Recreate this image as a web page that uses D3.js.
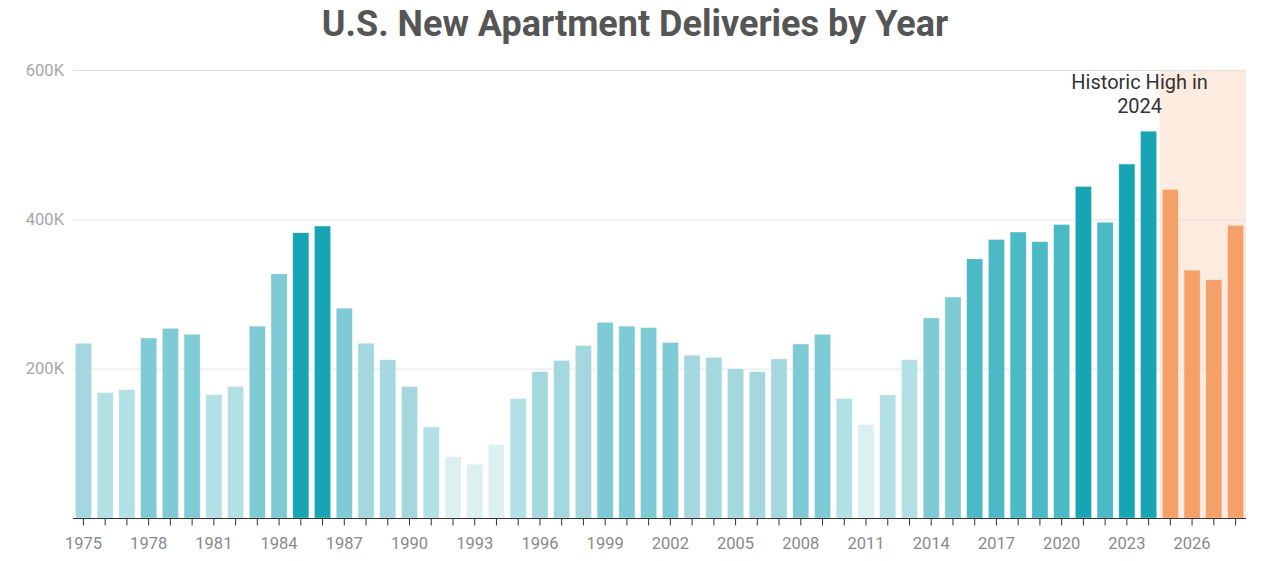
<!DOCTYPE html>
<meta charset="utf-8">
<title>U.S. New Apartment Deliveries by Year</title>
<style>

body {
  margin: 0;
  background: #fff;
  font-family: Roboto, "Noto Sans", sans-serif;
}

.grid line {
  stroke: #e3e3e3;
  stroke-width: 1px;
}

.y-axis text {
  fill: #a6a6a6;
  font-size: 16.5px;
}

.x-axis text {
  fill: #8a8a8a;
  font-size: 16.5px;
}

.x-axis line,
.x-axis path {
  stroke: #333;
}

</style>
<body>
<script src="https://cdn.jsdelivr.net/npm/d3@7"></script>
<script>

var years = d3.range(1975, 2029);

// thousands of units delivered
var deliveries = [
  234, 168, 172, 241, 254, 246, 165, 176, 257, 327,
  382, 391, 281, 234, 212, 176, 122, 82, 72, 98,
  160, 196, 211, 231, 262, 257, 255, 235, 218, 215,
  200, 196, 213, 233, 246, 160, 125, 165, 212, 268,
  296, 347, 373, 383, 370, 393, 444, 396, 474, 518,
  440, 332, 319, 392
];

// shade bucket for each year (0 lightest .. 5 darkest, 6 = forecast)
var shade = [
  2, 1, 1, 3, 3, 3, 1, 1, 3, 3,
  5, 5, 3, 2, 2, 2, 1, 0, 0, 0,
  1, 2, 2, 2, 3, 3, 3, 3, 2, 2,
  2, 2, 2, 3, 3, 1, 0, 1, 1, 3,
  3, 4, 4, 4, 4, 4, 5, 4, 5, 5,
  6, 6, 6, 6
];

var shadeColors = ["#dcf0f1", "#b2e0e4", "#a4d8de", "#7fcbd5", "#4bb9c6", "#17a4b3", "#f4a068"];

var yTicks = [200, 400, 600];
var yTickLabels = ["200K", "400K", "600K"];

var forecastStart = 2025;
var note = ["Historic High in", "2024"];
var noteYear = 2024;

var w = 1263,
    h = 561,
    m = {left: 73, right: 1246, top: 70, bottom: 518};

var svg = d3.select("body").append("svg")
    .attr("width", w)
    .attr("height", h);

var x = d3.scaleBand()
    .domain(years)
    .range([m.left, m.right])
    .paddingInner(0.26)
    .paddingOuter(0.11);

var y = d3.scaleLinear()
    .domain([0, 600])
    .range([m.bottom, m.top]);

var color = d3.scaleOrdinal()
    .domain(d3.range(shadeColors.length))
    .range(shadeColors);

svg.append("text")
    .attr("x", 635)
    .attr("y", 36)
    .attr("text-anchor", "middle")
    .style("font-size", "36px")
    .style("font-weight", "bold")
    .style("fill", "#555")
    .text("U.S. New Apartment Deliveries by Year");

// forecast band
var fx = x(forecastStart) - x.step() * x.paddingInner() / 2;
svg.append("rect")
    .attr("x", fx)
    .attr("y", y(600))
    .attr("width", m.right - fx)
    .attr("height", y(0) - y(600))
    .style("fill", "#fdebe0");

svg.append("g")
    .attr("class", "grid")
  .selectAll("line")
    .data(yTicks)
  .enter().append("line")
    .attr("x1", m.left)
    .attr("x2", m.right)
    .attr("y1", function(d) { return y(d) + 0.5; })
    .attr("y2", function(d) { return y(d) + 0.5; });

svg.append("g")
    .attr("class", "y-axis")
  .selectAll("text")
    .data(yTicks)
  .enter().append("text")
    .attr("x", 64)
    .attr("y", function(d) { return y(d); })
    .attr("dy", "0.35em")
    .attr("text-anchor", "end")
    .text(function(d, i) { return yTickLabels[i]; });

svg.append("g")
  .selectAll("rect")
    .data(years)
  .enter().append("rect")
    .attr("x", function(d) { return x(d); })
    .attr("width", x.bandwidth())
    .attr("y", function(d, i) { return y(deliveries[i]); })
    .attr("height", function(d, i) { return y(0) - y(deliveries[i]); })
    .style("fill", function(d, i) { return color(shade[i]); })
    .style("stroke", "#fff")
    .style("stroke-opacity", 0.5)
    .style("stroke-width", 0.6);

var xAxis = d3.axisBottom(x)
    .tickSize(7)
    .tickPadding(12)
    .tickFormat(function(d) { return (d - 1975) % 3 === 0 ? d : ""; });

svg.append("g")
    .attr("class", "x-axis")
    .attr("transform", "translate(0," + (m.bottom + 0.5) + ")")
    .call(xAxis)
    .call(function(g) { g.select(".domain").attr("d", "M" + m.left + ",0H" + m.right); })
    .selectAll("text")
    .style("font-family", "Roboto, sans-serif");

var nx = x(noteYear) + x.bandwidth() / 2 - 9;
svg.append("text")
    .attr("x", nx)
    .attr("y", 89)
    .attr("text-anchor", "middle")
    .style("font-size", "20px")
    .style("fill", "#333")
  .selectAll("tspan")
    .data(note)
  .enter().append("tspan")
    .attr("x", nx)
    .attr("dy", function(d, i) { return i ? 24 : 0; })
    .text(function(d) { return d; });

</script>
